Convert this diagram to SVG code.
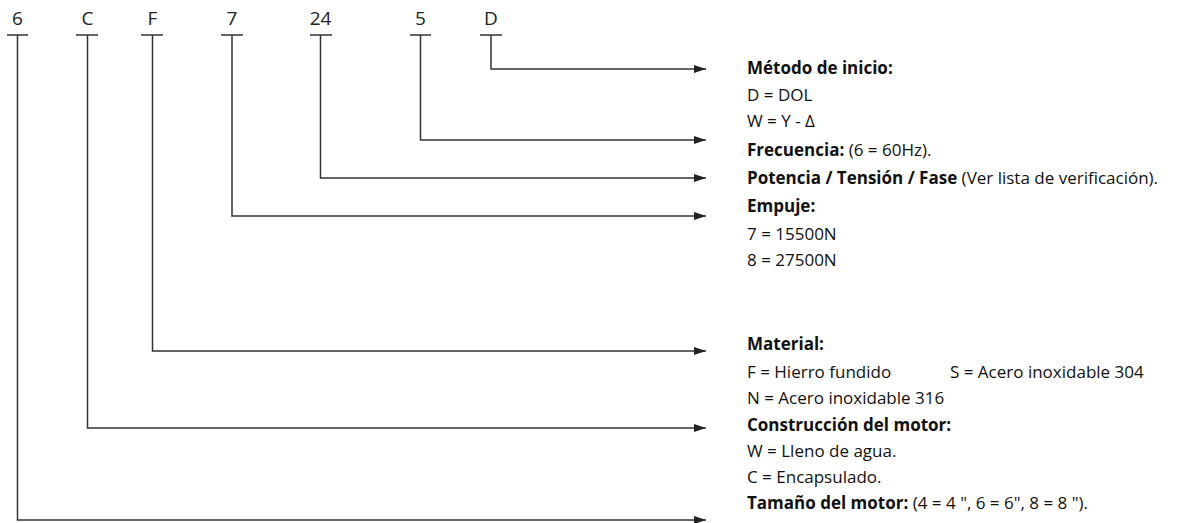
<svg xmlns="http://www.w3.org/2000/svg" width="1194" height="523" viewBox="0 0 1194 523">
<style>
.lbl{font-family:"Open Sans","Liberation Sans",sans-serif;font-size:19px;fill:#222;text-anchor:middle}
.t{font-family:"Open Sans","Liberation Sans",sans-serif;font-size:17px;fill:#111}
.b{font-weight:bold}
.tick{stroke:#333;stroke-width:1.5;fill:none}
.con{stroke:#333;stroke-width:1.5;fill:none;marker-end:url(#ah)}
</style>
<defs>
<marker id="ah" viewBox="0 0 12 8" refX="12" refY="4" markerWidth="12" markerHeight="8" markerUnits="userSpaceOnUse" orient="auto">
<path d="M0,0 L12,4 L0,8 Z" fill="#222"/>
</marker>
</defs>
<rect width="1194" height="523" fill="#fff"/>
<g id="codes">
<g id="c6"><text class="lbl" x="17.5" y="25">6</text><path class="tick" d="M7,35 H28"/></g>
<g id="cC"><text class="lbl" x="87.5" y="25">C</text><path class="tick" d="M76,35 H98"/></g>
<g id="cF"><text class="lbl" x="152.5" y="25">F</text><path class="tick" d="M141,35 H163"/></g>
<g id="c7"><text class="lbl" x="232" y="25">7</text><path class="tick" d="M221,35 H243"/></g>
<g id="c24"><text class="lbl" x="320.5" y="25">24</text><path class="tick" d="M310,35 H332"/></g>
<g id="c5"><text class="lbl" x="420.5" y="25">5</text><path class="tick" d="M410,35 H431"/></g>
<g id="cD"><text class="lbl" x="491" y="25">D</text><path class="tick" d="M480,35 H502"/></g>
</g>
<g id="connectors">
<path class="con" d="M491,35 V69 H706"/>
<path class="con" d="M420.5,35 V140 H706"/>
<path class="con" d="M320.5,35 V178 H706"/>
<path class="con" d="M232,35 V216 H706"/>
<path class="con" d="M152.5,35 V351 H706"/>
<path class="con" d="M87.5,35 V428 H706"/>
<path class="con" d="M17.5,35 V520 H706"/>
</g>
<g id="desc-D"><text class="t" x="747" y="74"><tspan class="b">Método de inicio:</tspan></text>
<text class="t" x="747" y="101">D = DOL</text>
<text class="t" x="747" y="127">W = Y - Δ</text></g>
<g id="desc-5"><text class="t" x="747" y="156"><tspan class="b">Frecuencia:</tspan> (6 = 60Hz).</text></g>
<g id="desc-24"><text class="t" x="747" y="184"><tspan class="b">Potencia / Tensión / Fase</tspan> (Ver lista de verificación).</text></g>
<g id="desc-7"><text class="t" x="747" y="212"><tspan class="b">Empuje:</tspan></text>
<text class="t" x="747" y="240">7 = 15500N</text>
<text class="t" x="747" y="266">8 = 27500N</text></g>
<g id="desc-F"><text class="t" x="747" y="350"><tspan class="b">Material:</tspan></text>
<text class="t" x="747" y="378">F = Hierro fundido</text>
<text class="t" x="950" y="378">S = Acero inoxidable 304</text>
<text class="t" x="747" y="404">N = Acero inoxidable 316</text></g>
<g id="desc-C"><text class="t" x="747" y="431"><tspan class="b">Construcción del motor:</tspan></text>
<text class="t" x="747" y="457">W = Lleno de agua.</text>
<text class="t" x="747" y="483">C = Encapsulado.</text></g>
<g id="desc-6"><text class="t" x="747" y="509"><tspan class="b">Tamaño del motor:</tspan> (4 = 4 ", 6 = 6", 8 = 8 ").</text></g>
</svg>
